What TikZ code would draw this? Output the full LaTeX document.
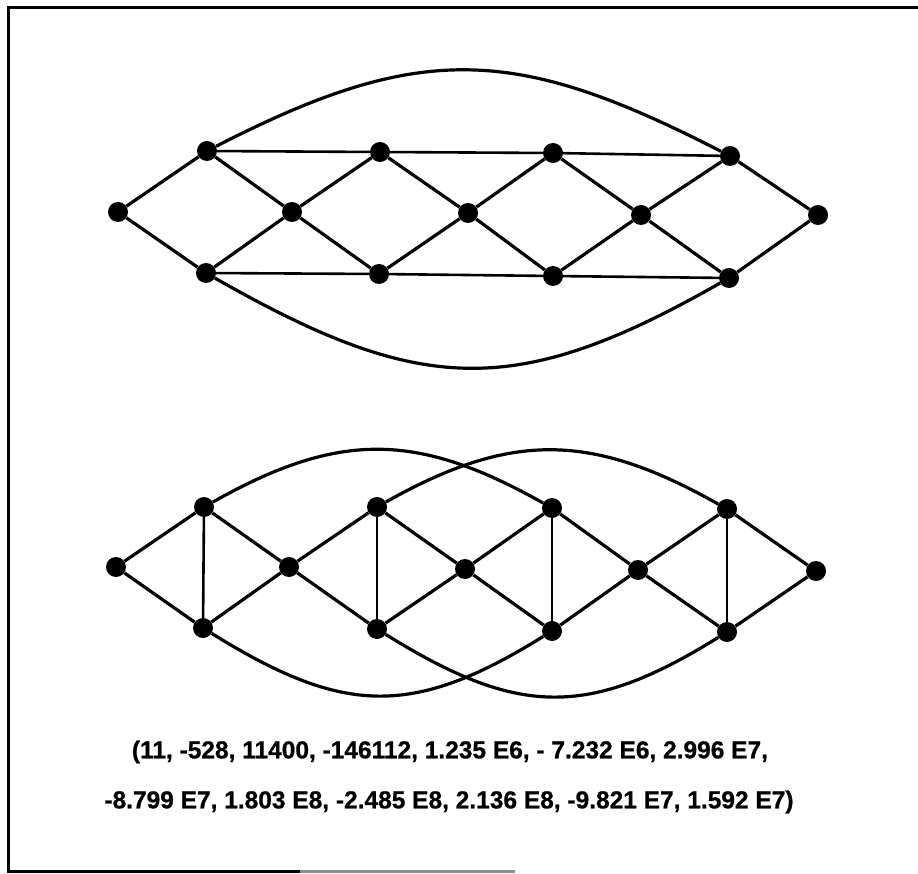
\documentclass[tikz,border=0pt]{standalone}
\usepackage{fontspec}
\setmainfont{Liberation Sans}
\newfontfamily\coefffont{Liberation Sans}[UprightFont={* Bold},FakeBold=0.8]
\usetikzlibrary{positioning}
\tikzset{
  vtx/.style={circle,fill=black,inner sep=0pt,minimum size=20pt},
  edg/.style={line width=3.2pt},
  rung/.style={line width=2.6pt},
  bow/.style={line width=3.2pt},
  frm/.style={line width=3pt},
  coeff/.style={font=\fontsize{24.5}{28}\coefffont,inner sep=0pt},
}
\begin{document}
\begin{tikzpicture}[x=1pt,y=-1pt]
  \useasboundingbox (0,0) rectangle (918,874);
  % frame, open on the right
  \draw[frm] (918,8) -- (8,8) -- (8,871) -- (300,871);
  \draw[frm,black!45] (300,871) -- (515,871);

  % upper graph
  \foreach \n/\x/\y in {tL/118/212, tU1/207/151, tU2/380/152, tU3/553/153, tU4/730/156,
                        tM1/292/212, tM2/468/213, tM3/641/215,
                        tD1/206/273, tD2/379/274, tD3/553/276, tD4/729/278, tR/818/215}
    \node[vtx] (\n) at (\x,\y) {};
  \foreach \p/\q in {tL/tU1, tL/tD1, tU1/tM1, tD1/tM1, tM1/tU2, tM1/tD2, tU2/tM2, tD2/tM2,
                     tM2/tU3, tM2/tD3, tU3/tM3, tD3/tM3, tM3/tU4, tM3/tD4, tU4/tR, tD4/tR}
    \draw[edg] (\p) -- (\q);
  \draw[rung] (tU1) -- (tU2) -- (tU3) -- (tU4);
  \draw[rung] (tD1) -- (tD2) -- (tD3) -- (tD4);
  \draw[bow] (tU1) .. controls +(214,-110) and +(-214,-110) .. (tU4);
  \draw[bow] (tD1) .. controls +(214,122) and +(-214,122) .. (tD4);

  % lower graph
  \foreach \n/\x/\y in {bL/116/567, bU1/204/507, bU2/377/507, bU3/552/508, bU4/727/509,
                        bM1/289/567, bM2/465/569, bM3/638/570,
                        bD1/203/628, bD2/377/629, bD3/552/631, bD4/727/632, bR/816/571}
    \node[vtx] (\n) at (\x,\y) {};
  \foreach \p/\q in {bL/bU1, bL/bD1, bU1/bM1, bD1/bM1, bM1/bU2, bM1/bD2, bU2/bM2, bD2/bM2,
                     bM2/bU3, bM2/bD3, bU3/bM3, bD3/bM3, bM3/bU4, bM3/bD4, bU4/bR, bD4/bR}
    \draw[edg] (\p) -- (\q);
  \foreach \i in {1,...,4}
    \draw[rung] (bU\i) -- (bD\i);
  \draw[bow] (bU1) .. controls +(135,-76) and +(-135,-76) .. (bU3);
  \draw[bow] (bU2) .. controls +(135,-76) and +(-135,-76) .. (bU4);
  \draw[bow] (bD1) .. controls +(140,87) and +(-140,87) .. (bD3);
  \draw[bow] (bD2) .. controls +(140,87) and +(-140,87) .. (bD4);

  % characteristic polynomial
  \node[coeff] (c1) at (450,752) {(11, -528, 11400, -146112, 1.235 E6, - 7.232 E6, 2.996 E7,};
  \node[coeff] (c2) at (449,802) {-8.799 E7, 1.803 E8, -2.485 E8, 2.136 E8, -9.821 E7, 1.592 E7)};
\end{tikzpicture}
\end{document}
